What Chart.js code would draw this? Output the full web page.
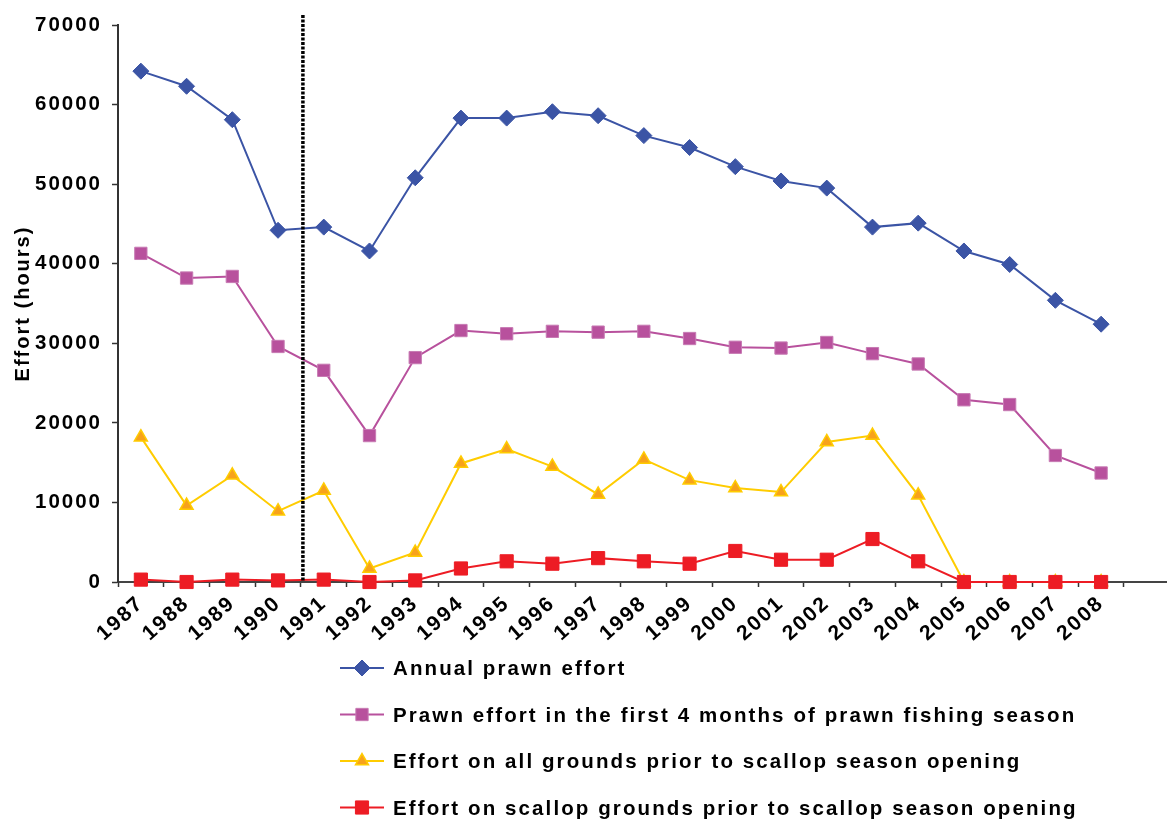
<!DOCTYPE html>
<html>
<head>
<meta charset="utf-8">
<script src="https://cdn.jsdelivr.net/npm/chart.js@4/dist/chart.umd.min.js"></script>
<style>
html,body{margin:0;padding:0;background:#fff;overflow:hidden;width:1167px;height:819px}
canvas{display:block}
</style>
</head>
<body>
<canvas id="c" width="1180" height="819" style="width:1180px;height:819px"></canvas>
<script>
// ---- data ----
const years = ['1987','1988','1989','1990','1991','1992','1993','1994','1995','1996','1997',
               '1998','1999','2000','2001','2002','2003','2004','2005','2006','2007','2008'];
const xLabels = [...years, ''];   // the axis runs one empty slot past 2008
const annualEffort        = [64200,62300,58100,44200,44600,41600,50800,58300,58300,59100,58600,
                             56100,54600,52200,50400,49500,44600,45100,41600,39900,35400,32400];
const firstFourMonths     = [41300,38200,38400,29600,26600,18400,28200,31600,31200,31500,31400,
                             31500,30600,29500,29400,30100,28700,27400,22900,22300,15900,13700];
const allGroundsPrior     = [18200,9600,13400,8900,11500,1700,3700,14900,16700,14500,11000,
                             15400,12800,11800,11300,17600,18400,10900,0,0,0,0];
const scallopGroundsPrior = [300,0,300,200,300,0,200,1700,2600,2300,3000,
                             2600,2300,3900,2800,2800,5400,2600,0,0,0,0];
const seriesNames = [
  'Annual prawn effort',
  'Prawn effort in the first 4 months of prawn fishing season',
  'Effort on all grounds prior to scallop season opening',
  'Effort on scallop grounds prior to scallop season opening'
];
const yTicks = [0,10000,20000,30000,40000,50000,60000,70000];
const yTitle = 'Effort (hours)';
const splitBetween = ['1990','1991'];

const FONT = '"Liberation Sans", Arial, Helvetica, sans-serif';
Chart.defaults.font.family = FONT;
Chart.defaults.color = '#000';

const spacingPlugin = {
  id: 'spacing',
  beforeLayout(chart){ chart.ctx.letterSpacing = '2px'; },
  beforeDraw(chart){ chart.ctx.letterSpacing = '2px'; }
};

const dividerPlugin = {
  id: 'divider',
  afterDatasetsDraw(chart){
    const xs = chart.scales.x;
    const a = xs.getPixelForValue(xLabels.indexOf(splitBetween[0]));
    const b = xs.getPixelForValue(xLabels.indexOf(splitBetween[1]));
    const px = (a + b) / 2 + 2;
    const ctx = chart.ctx;
    ctx.save();
    ctx.strokeStyle = '#000';
    ctx.lineWidth = 3.5;
    ctx.setLineDash([3, 1.5]);
    ctx.beginPath();
    ctx.moveTo(px, chart.chartArea.top - 10);
    ctx.lineTo(px, chart.chartArea.bottom);
    ctx.stroke();
    ctx.restore();
  }
};

const legendPlugin = {
  id: 'stackLegend',
  afterDraw(chart){
    const ctx = chart.ctx;
    const x0 = 340, x1 = 384, tx = 393;
    const top = chart.chartArea.bottom + 86, gap = 46.5;
    chart.data.datasets.forEach((ds, i) => {
      const y = top + i * gap;
      ctx.save();
      ctx.strokeStyle = ds.borderColor;
      ctx.lineWidth = ds.borderWidth;
      ctx.beginPath(); ctx.moveTo(x0, y); ctx.lineTo(x1, y); ctx.stroke();
      ctx.fillStyle = ds.pointBackgroundColor;
      ctx.strokeStyle = ds.pointBorderColor;
      ctx.lineWidth = ds.pointBorderWidth;
      Chart.helpers.drawPoint(ctx, {pointStyle: ds.pointStyle, rotation: 0,
        radius: ds.pointRadius, borderWidth: ds.pointBorderWidth}, (x0 + x1) / 2, y);
      ctx.letterSpacing = '2.1px';
      ctx.font = 'bold 20.5px ' + FONT;
      ctx.fillStyle = '#000';
      ctx.textAlign = 'left';
      ctx.textBaseline = 'alphabetic';
      ctx.fillText(ds.label, tx, y + 7);
      ctx.restore();
    });
  }
};

const base = {fill: false, tension: 0, borderWidth: 2, pointBorderWidth: 1, clip: false};

new Chart(document.getElementById('c'), {
  type: 'line',
  data: {
    labels: xLabels,
    datasets: [
      {...base, label: seriesNames[0], data: annualEffort, order: 4,
        borderColor: '#3B54A5', pointBackgroundColor: '#3B54A5', pointBorderColor: '#3B54A5',
        pointStyle: 'rectRot', pointRadius: 8, pointHoverRadius: 8},
      {...base, label: seriesNames[1], data: firstFourMonths, order: 3,
        borderColor: '#B8519D', pointBackgroundColor: '#B8519D', pointBorderColor: '#C77AB3',
        pointStyle: 'rect', pointRadius: 8.7, pointHoverRadius: 8.7},
      {...base, label: seriesNames[2], data: allGroundsPrior, order: 2,
        borderColor: '#FFCC00', pointBackgroundColor: '#F7A21B', pointBorderColor: '#FFCC00',
        pointBorderWidth: 1.5, pointStyle: 'triangle', pointRadius: 7.5, pointHoverRadius: 7.5},
      {...base, label: seriesNames[3], data: scallopGroundsPrior, order: 1,
        borderColor: '#ED1C24', pointBackgroundColor: '#ED1C24', pointBorderColor: '#ED1C24',
        pointStyle: 'rect', pointRadius: 9.3, pointHoverRadius: 9.3}
    ]
  },
  options: {
    responsive: false,
    animation: false,
    devicePixelRatio: 1,
    layout: {padding: {top: 25, left: 0, right: 4, bottom: 0}},
    plugins: {legend: {display: false}, tooltip: {enabled: false}},
    scales: {
      x: {
        type: 'category',
        offset: true,
        grid: {offset: true, drawOnChartArea: false, drawTicks: true, tickLength: 5, tickColor: '#333', tickWidth: 1.5},
        border: {display: true, color: '#444', width: 2},
        ticks: {autoSkip: false, maxRotation: 42, minRotation: 42, padding: 4,
                font: {size: 21, weight: 'bold'}, color: '#000'},
        afterFit(s){ s.height = 819 - 582; }
      },
      y: {
        min: yTicks[0], max: yTicks[yTicks.length - 1],
        afterBuildTicks(s){ s.ticks = yTicks.map(v => ({value: v})); },
        grid: {drawOnChartArea: false, drawTicks: true, tickLength: 6, tickColor: '#333', tickWidth: 1.5},
        border: {display: true, color: '#333', width: 2},
        ticks: {padding: 10, font: {size: 20.5, weight: 'bold'}, color: '#000',
                callback: v => String(v)},
        title: {display: true, text: yTitle, font: {size: 20, weight: 'bold'}, color: '#000',
                padding: {top: 11, bottom: 0}},
        afterFit(s){ s.width = 118; }
      }
    }
  },
  plugins: [spacingPlugin, dividerPlugin, legendPlugin]
});
</script>
</body>
</html>
